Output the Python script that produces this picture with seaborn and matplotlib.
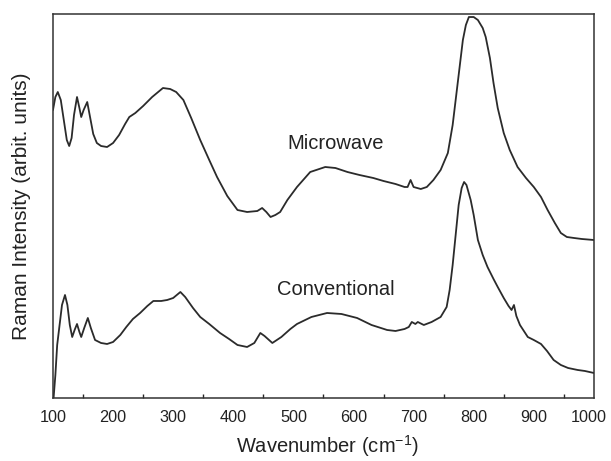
import matplotlib
matplotlib.use("Agg")
import matplotlib.pyplot as plt
import matplotlib.transforms as mtransforms
import seaborn as sns
import pandas as pd
from matplotlib.ticker import MultipleLocator

# Microwave spectrum (wavenumber, intensity in arbitrary units)
mw_wn = [100, 104, 108, 113, 118, 123, 127, 131, 135, 140, 144, 147, 151, 157, 162, 167, 173, 180,
         190, 200, 210, 220, 227, 237, 250, 265, 283, 295, 305, 317, 330, 345, 360, 373, 390, 407,
         423, 440, 448, 455, 462, 470, 478, 490, 506, 528, 553, 570, 590, 610, 633, 650, 670, 685,
         690, 695, 700, 712, 722, 733, 745, 757, 765, 770, 776, 782, 787, 792, 800, 807, 815, 820,
         827, 833, 840, 850, 860, 873, 887, 900, 912, 923, 935, 945, 955, 967, 980, 1000]
mw_int = [288, 301, 306, 298, 278, 258, 252, 260, 283, 301, 290, 281, 288, 296, 280, 264, 255, 252,
          251, 255, 263, 274, 281, 285, 292, 301, 310, 309, 306, 298, 280, 258, 238, 221, 202, 188,
          186, 187, 190, 186, 181, 183, 186, 198, 211, 226, 231, 230, 226, 223, 220, 217, 214, 211,
          211, 218, 211, 209, 211, 218, 228, 245, 273, 298, 328, 358, 373, 381, 381, 378, 370, 361,
          340, 315, 290, 265, 248, 231, 220, 211, 201, 188, 175, 165, 161, 160, 159, 158]

# Conventional spectrum
cv_wn = [101, 104, 107, 110, 115, 120, 124, 128, 132, 136, 140, 144, 147, 152, 158, 163, 170, 180,
         190, 200, 212, 222, 233, 245, 257, 267, 280, 290, 300, 312, 320, 333, 345, 360, 378, 393,
         407, 423, 435, 445, 452, 465, 480, 495, 506, 530, 556, 580, 606, 630, 656, 670, 685, 692,
         697, 703, 707, 717, 730, 745, 755, 760, 765, 770, 775, 780, 784, 788, 795, 800, 807, 815,
         823, 833, 840, 850, 858, 863, 867, 871, 877, 890, 900, 912, 922, 933, 945, 957, 965, 973,
         985, 1000]
cv_int = [0, 23, 53, 68, 93, 103, 93, 73, 61, 68, 74, 66, 61, 70, 80, 70, 58, 55,
          54, 56, 63, 71, 79, 85, 92, 97, 97, 98, 100, 106, 101, 90, 81, 74, 65, 59,
          53, 51, 55, 65, 62, 55, 61, 69, 74, 81, 85, 84, 80, 73, 68, 67, 69, 71,
          76, 74, 76, 73, 76, 81, 91, 108, 133, 163, 193, 210, 216, 213, 198, 183, 158, 143,
          131, 119, 111, 100, 92, 88, 93, 82, 73, 61, 58, 54, 47, 38, 33, 30, 29, 28,
          27, 25]

x_ticks = [100, 200, 300, 400, 500, 600, 700, 800, 900, 1000]

sns.set_style("white")
plt.rcParams['font.family'] = ['Liberation Sans', 'DejaVu Sans']

fig = plt.figure(figsize=(6.11, 4.61), dpi=100)
ax = fig.add_axes([0.0867, 0.1367, 0.8853, 0.8329])

df_mw = pd.DataFrame({"wn": mw_wn, "I": mw_int})
df_cv = pd.DataFrame({"wn": cv_wn, "I": cv_int})
sns.lineplot(data=df_mw, x="wn", y="I", ax=ax, color="#2b2b2b", lw=1.3)
sns.lineplot(data=df_cv, x="wn", y="I", ax=ax, color="#2b2b2b", lw=1.3)

ax.set_xlim(100, 1000)
ax.set_ylim(0, 384)
ax.set_xticks(x_ticks)
ax.xaxis.set_minor_locator(MultipleLocator(50))
ax.set_yticks([])
ax.tick_params(axis="x", which="major", direction="in", length=5, width=1.0,
               labelsize=11.7, colors="#222222", pad=9)
ax.tick_params(axis="x", which="minor", direction="in", length=3, width=1.0, bottom=True)
for s in ax.spines.values():
    s.set_color("#333333")
    s.set_linewidth(1.1)

labels = ax.get_xticklabels()
shift = mtransforms.ScaledTranslation(-5 / 100, 0, fig.dpi_scale_trans)
labels[-1].set_transform(labels[-1].get_transform() + shift)

ax.set_xlabel("Wavenumber (cm$^{\\mathregular{-1}}$)", fontsize=14.5, color="#222222")
ax.set_ylabel("Raman Intensity (arbit. units)", fontsize=15, color="#222222")
ax.xaxis.set_label_coords(0.508, -0.092)
ax.yaxis.set_label_coords(-0.04, 0.5)

ax.text(570, 255, "Microwave", fontsize=14.5, ha="center", va="center", color="#222222")
ax.text(570, 108, "Conventional", fontsize=14.5, ha="center", va="center", color="#222222")

fig.savefig("out.png", dpi=100)
